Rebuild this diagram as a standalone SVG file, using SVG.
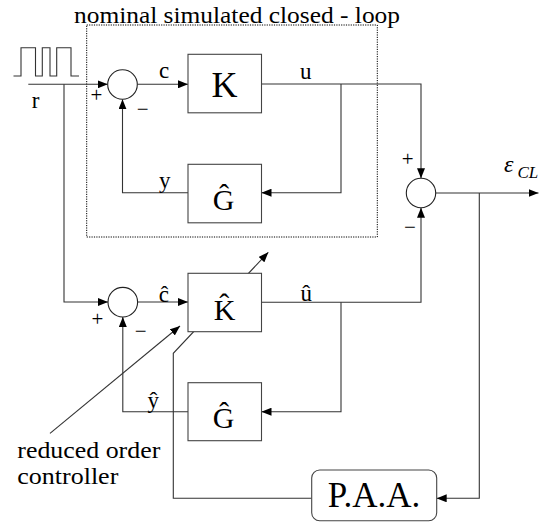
<svg xmlns="http://www.w3.org/2000/svg" width="559" height="523" viewBox="0 0 559 523">
<style>
.ln{fill:none;stroke:#333;stroke-width:1.1}
.ar{marker-end:url(#ah)}
.box{fill:#fff;stroke:#444;stroke-width:1.1}
.sum{fill:#fff;stroke:#222;stroke-width:1.1}
.t{font-family:"Liberation Serif","Times New Roman",serif;fill:#000}
.big{font-size:36px;text-anchor:middle}
.hat{font-size:30px;text-anchor:middle}
.lb{font-size:23px}
.sg{font-size:21px;text-anchor:middle}
</style>
<defs>
<marker id="ah" markerUnits="userSpaceOnUse" markerWidth="10" markerHeight="8" refX="10" refY="4" orient="auto">
<path d="M0,0 L10,4 L0,8 Z" fill="#000"/>
</marker>
</defs>
<rect width="559" height="523" fill="#fff"/>
<text class="t" x="74" y="22.5" font-size="23" textLength="326" lengthAdjust="spacingAndGlyphs">nominal simulated closed - loop</text>
<rect x="86.7" y="25" width="290.6" height="212" fill="none" stroke="#000" stroke-width="1" stroke-dasharray="1.2,1.2"/>
<g id="connectors">
<path class="ln ar" d="M28.3,84.3 H107.8"/>
<path class="ln ar" d="M64,84.3 V302 H108"/>
<path class="ln ar" d="M137.3,84.3 H188"/>
<path class="ln ar" d="M261.5,84 H421 V178.3"/>
<path class="ln ar" d="M341,84 V192.7 H261.5"/>
<path class="ln ar" d="M188,192.7 H122.5 V99.3"/>
<path class="ln ar" d="M435.7,193 H538.5"/>
<path class="ln ar" d="M479.3,193 V498.3 H436.7"/>
<path class="ln ar" d="M311.7,498.3 H173.3 V353.3 L268.3,252.3"/>
<path class="ln ar" d="M137.6,302 H188"/>
<path class="ln ar" d="M261.5,302.3 H421 V207.7"/>
<path class="ln ar" d="M341,302.3 V411.7 H261.5"/>
<path class="ln ar" d="M188,411.7 H122.8 V317"/>
<path class="ln ar" d="M50,433.3 L180,326"/>
</g>
<g id="source">
<path class="ln" d="M13.5,76 H21 V47.7 H35.5 V76 H42.3 V47.7 H50 V76 H56.7 V47.7 H71 V76 H79"/>
<text class="t lb" x="31.7" y="108.3">r</text>
</g>
<g id="sum1">
<circle class="sum" cx="122.5" cy="84.5" r="14.8"/>
<text class="t sg" x="96.3" y="101.5">+</text>
<text class="t sg" x="142.7" y="115.5">−</text>
</g>
<g id="K">
<rect class="box" x="188" y="54.3" width="73.5" height="58.5"/>
<text class="t big" x="224.5" y="97.3">K</text>
</g>
<g id="Ghat1">
<rect class="box" x="188" y="164.3" width="73.5" height="58.5"/>
<text class="t hat" x="223.5" y="210">Ĝ</text>
</g>
<g id="sum2">
<circle class="sum" cx="421" cy="193" r="14.7"/>
<text class="t sg" x="407.7" y="166.3">+</text>
<text class="t sg" x="410" y="233.5">−</text>
</g>
<g id="sum3">
<circle class="sum" cx="122.8" cy="302.2" r="14.8"/>
<text class="t sg" x="97.5" y="326.3">+</text>
<text class="t sg" x="140.7" y="337.8">−</text>
</g>
<g id="Khat">
<rect class="box" x="188" y="273.3" width="73.5" height="58.4"/>
<text class="t hat" x="224.5" y="320">K̂</text>
</g>
<g id="Ghat2">
<rect class="box" x="188" y="382.7" width="73.5" height="58"/>
<text class="t hat" x="223.5" y="428.4">Ĝ</text>
</g>
<g id="PAA">
<rect class="box" x="311.7" y="470" width="125" height="50.7" rx="8" ry="8"/>
<text class="t" x="374" y="506.7" font-size="35" text-anchor="middle">P.A.A.</text>
</g>
<g id="labels">
<text class="t lb" x="159" y="78.3">c</text>
<text class="t lb" x="300" y="79">u</text>
<text class="t lb" x="159" y="188">y</text>
<text class="t lb" x="158.7" y="301.5">ĉ</text>
<text class="t lb" x="300.5" y="300.7">û</text>
<text class="t lb" x="147.5" y="408.3">ŷ</text>
<text class="t" x="504" y="171.7" font-size="24" font-style="italic">ε</text>
<text class="t" x="517.5" y="178.3" font-size="17" font-style="italic">CL</text>
<text class="t" x="17.3" y="457.5" font-size="23" textLength="143" lengthAdjust="spacingAndGlyphs">reduced order</text>
<text class="t" x="17.3" y="483.5" font-size="23" textLength="101" lengthAdjust="spacingAndGlyphs">controller</text>
</g>
</svg>
